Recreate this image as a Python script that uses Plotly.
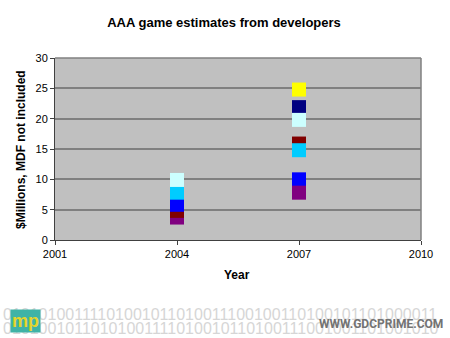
import plotly.graph_objects as go

# ---- data ----
years_2004 = [2004, 2004, 2004, 2004, 2004]
values_2004 = [3.7, 4.8, 5.8, 7.8, 9.9]
colors_2004 = ["#800080", "#800000", "#0000FF", "#00CCFF", "#CCFFFF"]

years_2007 = [2007, 2007, 2007, 2007, 2007, 2007, 2007]
values_2007 = [10.0, 7.8, 15.9, 14.8, 21.9, 19.8, 24.8]
colors_2007 = ["#0000FF", "#800080", "#800000", "#00CCFF", "#000080", "#CCFFFF", "#FFFF00"]

x_ticks = [2001, 2004, 2007, 2010]
y_ticks = [0, 5, 10, 15, 20, 25, 30]

title_text = "AAA game estimates from developers"
x_title = "Year"
y_title = "$Millions, MDF not included"

binary_row1 = "01010100111101001011010011100100110100101101000011"
binary_row2 = "01010010110101001111010010110100111001001101001010"

FONT = "Liberation Sans, Arial, sans-serif"

fig = go.Figure()
for xs, ys, cs in [(years_2004, values_2004, colors_2004), (years_2007, values_2007, colors_2007)]:
    fig.add_trace(go.Scatter(
        x=xs, y=ys, mode="markers",
        marker=dict(symbol="square", size=14, color=cs, line=dict(width=0)),
        showlegend=False, hoverinfo="x+y",
    ))

L, R, T, B = 55, 29, 58, 98
W, H = 450, 338
pw = W - L - R
ph = H - T - B

def px(xp):
    return (xp - L) / pw

def py(yp):
    return (H - B - yp) / ph

fig.update_layout(
    template="none",
    width=W, height=H,
    margin=dict(l=L, r=R, t=T, b=B, pad=0),
    paper_bgcolor="white",
    plot_bgcolor="#C0C0C0",
    font=dict(family=FONT, size=11, color="#000000"),
    title=dict(text="<b>" + title_text + "</b>", x=224 / W, xanchor="center",
               y=1 - 22 / H, yanchor="middle", font=dict(size=13, family=FONT, color="#000000")),
    xaxis=dict(range=[2001, 2010], tickvals=x_ticks, tickformat="d",
               showgrid=False, zeroline=False, showline=True, linecolor="#404040", linewidth=1,
               ticks="outside", ticklen=4, tickcolor="#404040", fixedrange=True,
               tickfont=dict(size=11, color="#000000", family=FONT)),
    yaxis=dict(range=[0, 30], tickvals=y_ticks, showgrid=True, gridcolor="#808080", gridwidth=1.5,
               zeroline=False, showline=True, linecolor="#404040", linewidth=1,
               ticks="outside", ticklen=4, tickcolor="#404040", fixedrange=True,
               tickfont=dict(size=11, color="#000000", family=FONT)),
    shapes=[
        dict(type="line", xref="paper", yref="paper", x0=1, x1=1, y0=0, y1=1,
             line=dict(color="#808080", width=1.5)),
        dict(type="line", xref="paper", yref="paper", x0=0, x1=1, y0=1, y1=1,
             line=dict(color="#808080", width=1.5)),
    ],
    annotations=[
        dict(text="<b>" + x_title + "</b>", xref="paper", yref="paper", x=px(237), y=py(275),
             showarrow=False, xanchor="center", yanchor="middle", font=dict(size=12, family=FONT, color="#000000")),
        dict(text="<b>" + y_title + "</b>", xref="paper", yref="paper", x=px(21), y=py(150),
             showarrow=False, xanchor="center", yanchor="middle", textangle=-90,
             font=dict(size=12, family=FONT, color="#000000")),
        dict(text=binary_row1, xref="paper", yref="paper", x=px(1), y=py(314),
             showarrow=False, xanchor="left", yanchor="middle",
             font=dict(size=16, family=FONT, color="#D6D6D6")),
        dict(text=binary_row2, xref="paper", yref="paper", x=px(1), y=py(328),
             showarrow=False, xanchor="left", yanchor="middle",
             font=dict(size=16, family=FONT, color="#D6D6D6")),
        dict(text="<b>WWW.GDCPRIME.COM</b>", xref="paper", yref="paper", x=px(445), y=py(324),
             showarrow=False, xanchor="right", yanchor="middle",
             font=dict(size=12, family="Liberation Sans Narrow, Roboto, sans-serif", color="#737373")),
        dict(text="<b>mp</b>", xref="paper", yref="paper", x=px(25), y=py(321),
             showarrow=False, xanchor="center", yanchor="middle",
             bgcolor="#3FB3A6", borderpad=1,
             font=dict(size=18, family=FONT, color="#E6D52A")),
    ],
)

fig.write_html("out.html")
